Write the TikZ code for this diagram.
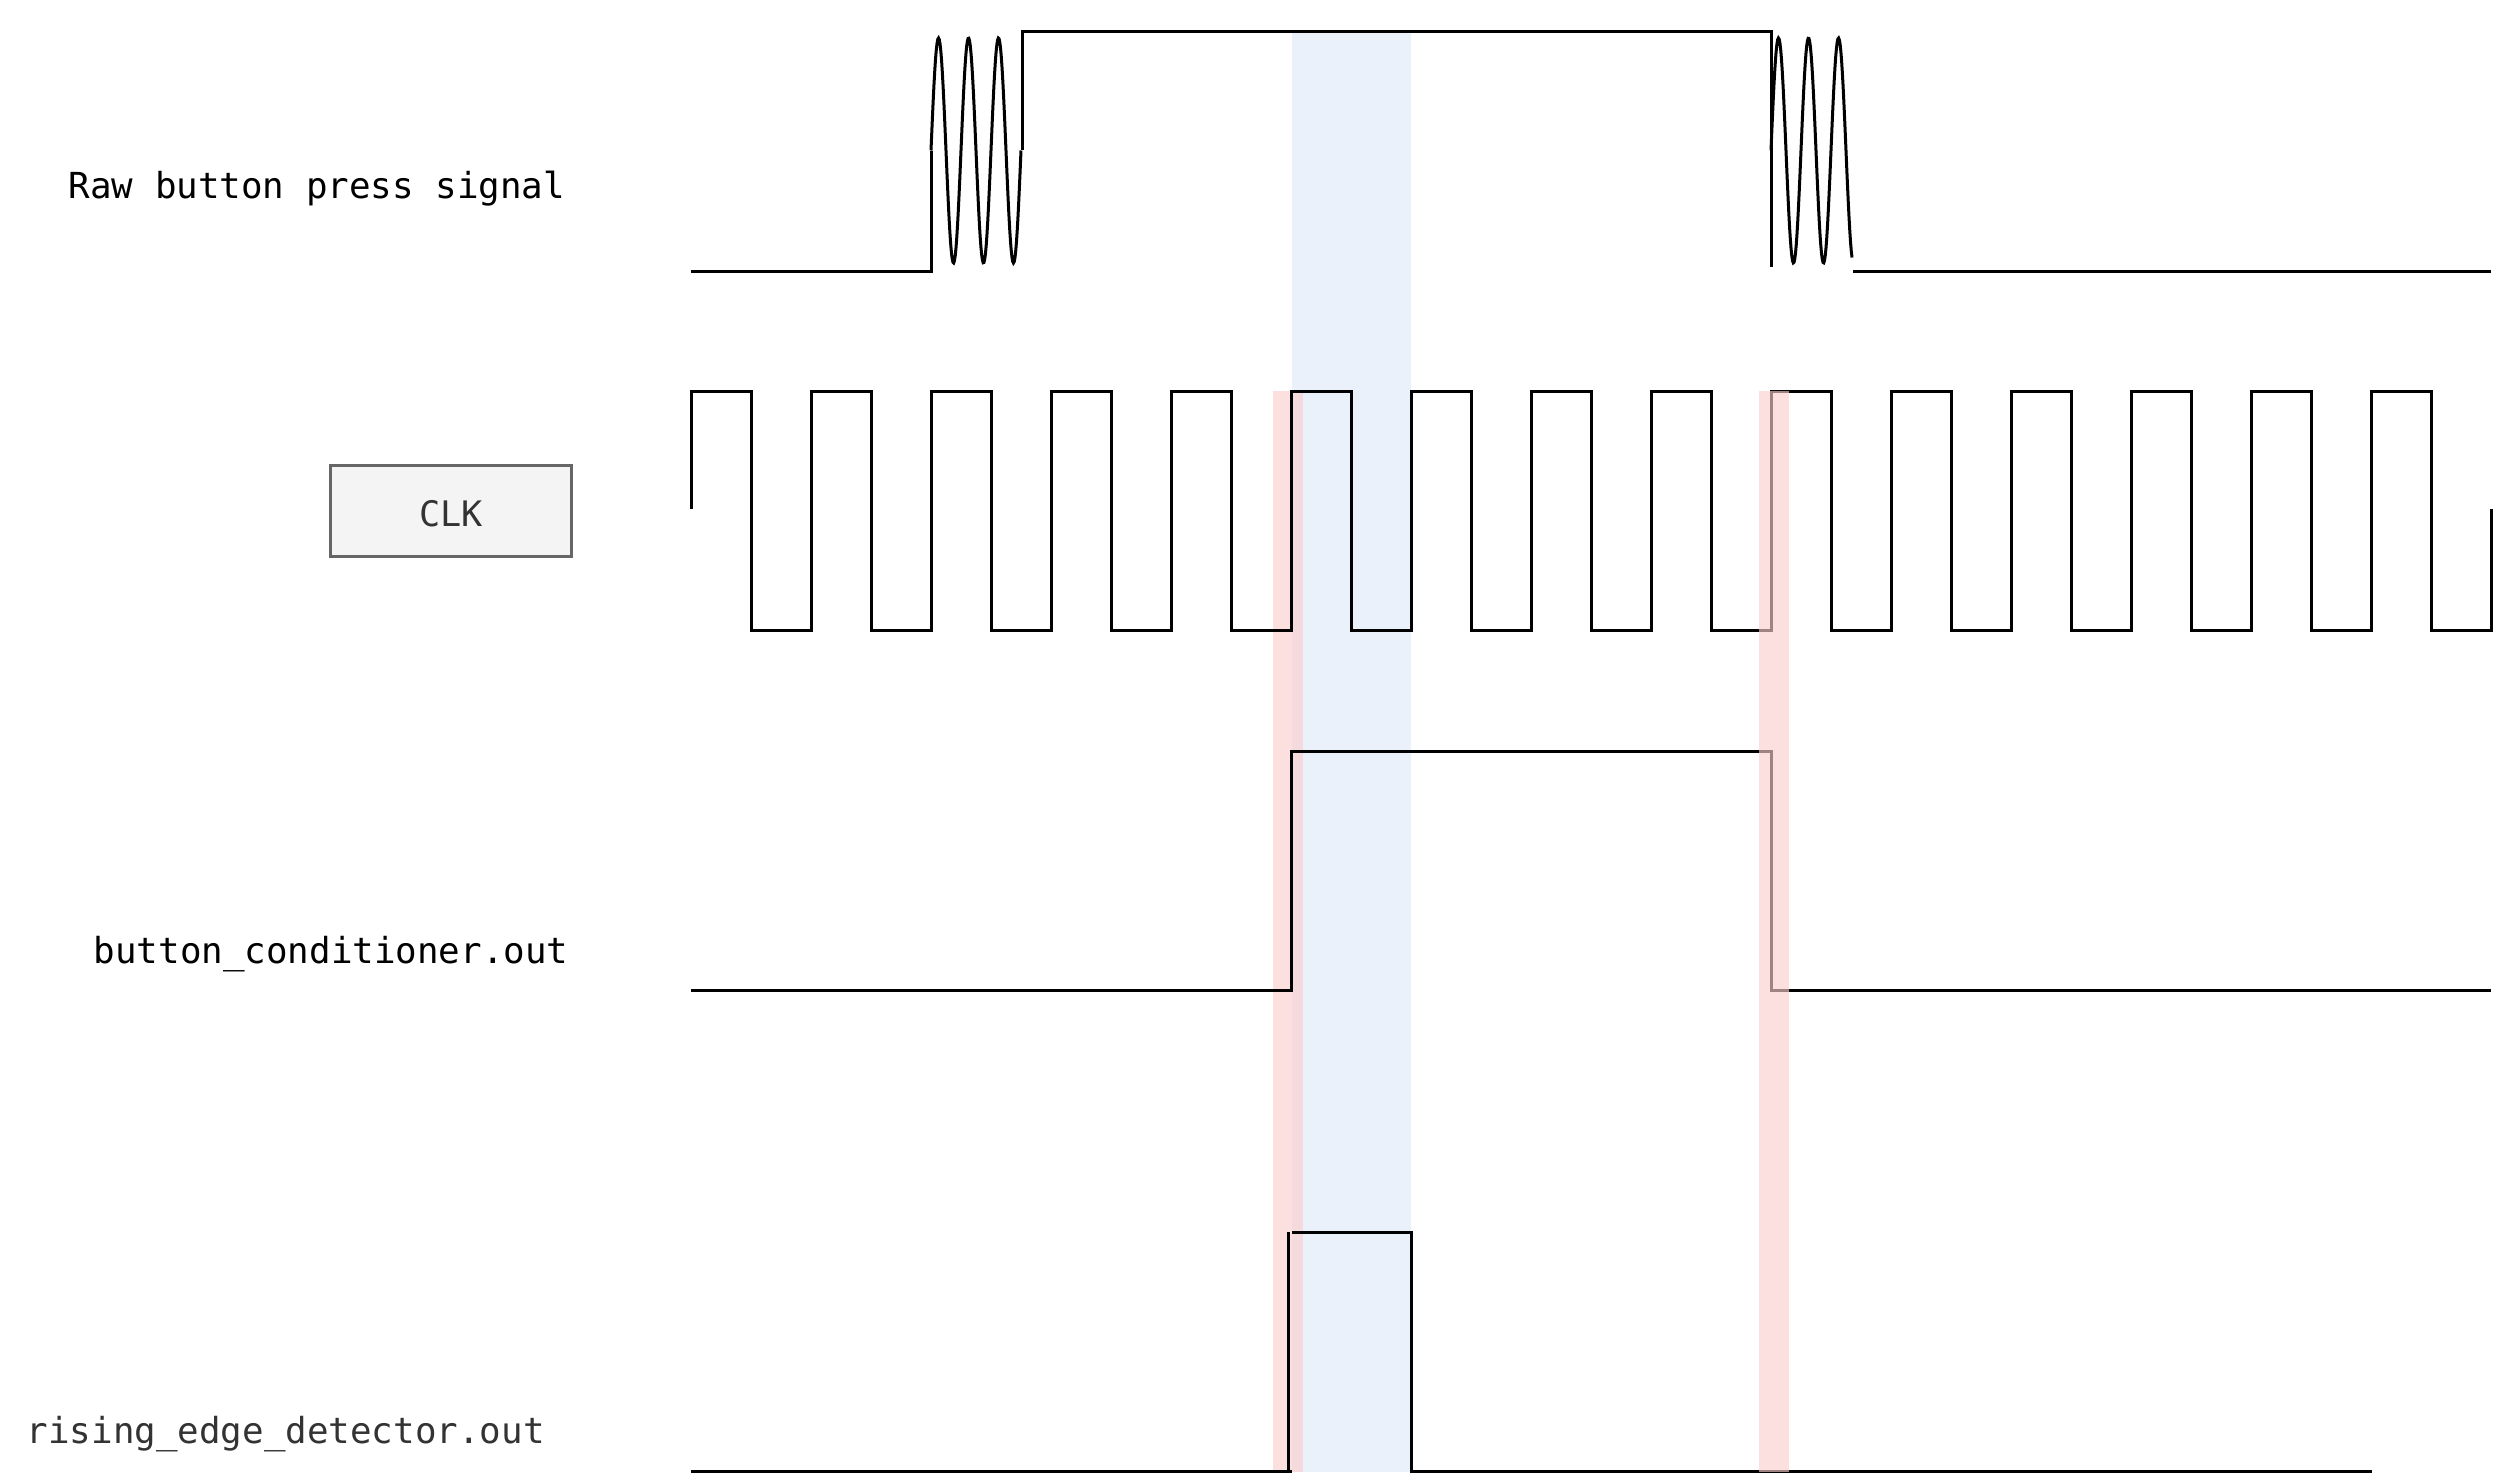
\documentclass[tikz,border=0pt]{standalone}
\usepackage{fontspec}
\newfontfamily\sigfont{DejaVu Sans Mono}
\definecolor{bandblue}{RGB}{234,241,251}
\definecolor{bandred}{RGB}{250,205,205}
\definecolor{boxgray}{RGB}{244,244,244}
\definecolor{boxline}{RGB}{102,102,102}
\definecolor{labelgray}{RGB}{51,51,51}
\tikzset{
  signal/.style={line width=0.3mm, black},
  siglabel/.style={font=\sigfont\fontsize{10.2}{12}\selectfont, inner sep=0pt, anchor=base west},
  clkbox/.style={draw=boxline, fill=boxgray, line width=0.3mm, minimum width=24.1mm,
    minimum height=9.1mm, font=\sigfont\fontsize{10}{12}\selectfont, text=labelgray},
  edgeband/.style={fill=bandred, fill opacity=0.64}
}

\begin{document}
\begin{tikzpicture}[x=0.1mm,y=-0.1mm]
      \useasboundingbox (0,0) rectangle (2496,1476);
      \fill[bandblue] (1292,31) rectangle (1411,1472);
      \fill[edgeband] (1273,391) rectangle (1303,1472);

      \node[siglabel] (raw) at (68,198) {Raw button press signal};
      \node[clkbox] (clk) at (451,511) {\raisebox{-1.5mm}[0pt][0pt]{CLK}};
      \node[siglabel] (cond) at (93,963) {button\_conditioner.out};
      \node[siglabel, text=labelgray] (rise) at (26,1443) {rising\_edge\_detector.out};

      % raw button
      \draw[signal] (691,271) -- (931,271) -- (931,151);
      \draw[signal] plot[domain=931:1021, samples=120] (\x, {150.5-112.5*sin(12*(\x-931))});
      \draw[signal] (1022,150) -- (1022,31) -- (1771,31) -- (1771,267);
      \draw[signal] plot[domain=1771:1852, samples=110] (\x, {150.5-112.5*sin(12*(\x-1771))});
      \draw[signal] (1853,271) -- (2491,271);

      % clock
      \draw[signal] (691,509) -- (691,391)
        \foreach \i in {0,...,13} { -- ++(60,0) -- ++(0,239) -- ++(60,0) -- ++(0,-239) }
        -- ++(60,0) -- ++(0,239) -- ++(60,0) -- ++(0,-121);

      % conditioner
      \draw[signal] (691,990) -- (1291,990) -- (1291,751) -- (1771,751) -- (1771,990) -- (2491,990);

      % edge detector
      \draw[signal] (691,1471) -- (1292,1471);
      \draw[signal] (1288,1471) -- (1288,1232);
      \draw[signal] (1292,1232) -- (1411,1232) -- (1411,1471) -- (2372,1471);

      \fill[edgeband] (1759,391) rectangle (1789,1472);
    \end{tikzpicture}
\end{document}
